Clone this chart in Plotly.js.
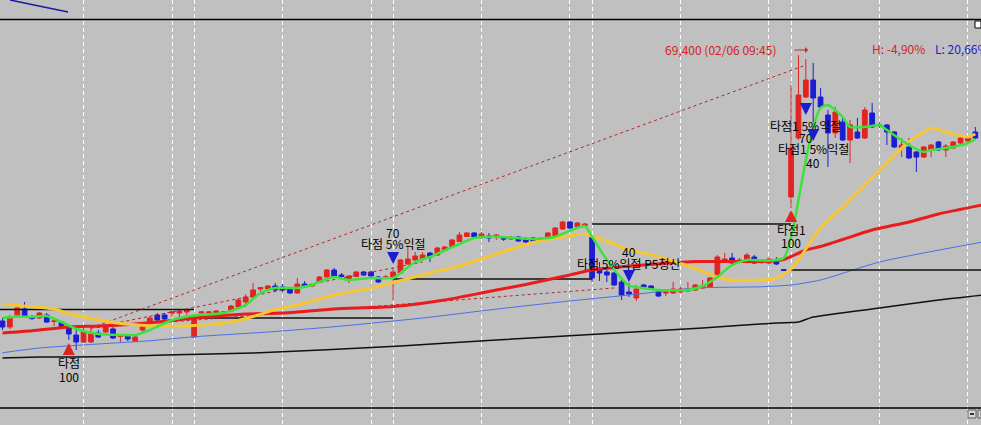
<!DOCTYPE html>
<html>
<head>
<meta charset="utf-8">
<script src="https://cdn.plot.ly/plotly-3.0.1.min.js"></script>
<style>
  html, body { margin: 0; padding: 0; background: #c0c0c0; }
  #plotlyChart { width: 981px; height: 425px; }
</style>
</head>
<body>
<div id="plotlyChart"></div>
<script>
// bars, oldest on the left (price in won)
let open = [
  58760, 58520, 59000, 59240, 58920, 58880, 59000, 58740, 58720, 58480,
  58200, 57920, 57920, 58280, 58320, 58440, 58140, 58160, 57960, 58400,
  58680, 59000, 59000, 59080, 59080, 59120, 58120, 59080, 59080, 59000,
  59100, 59160, 59320, 59520, 59720, 60040, 60040, 60160, 60120, 60040,
  59880, 60240, 60160, 60320, 60520, 60800, 60600, 60400, 60540, 60720,
  60720, 60520, 60500, 60520, 60680, 61040, 61200, 61240, 61480, 61400,
  61580, 61740, 61940, 62140, 62280, 62160, 62160, 62120, 62080, 62040,
  62120, 62060, 62080, 62060, 62080, 62160, 62440, 62720, 62540, 62560,
  62120, 60800, 60720, 60680, 60320, 59920, 59680, 60200, 60160, 59920,
  59880, 59880, 59920, 59960, 60000, 60080, 60120, 60520, 61120, 61280,
  61140, 61200, 61320, 61120, 61080, 61200, 60820, 63720, 66080, 67720,
  68400, 67720, 67000, 66280, 66720, 66000, 66320, 66080, 67080, 66580,
  66600, 66320, 65680, 65720, 65520, 65320, 65600, 65920, 65600, 65680,
  65880, 65960, 66320,
];
let high = [
  58880, 59000, 59360, 59520, 59000, 59120, 59080, 58800, 58760, 58560,
  58400, 58480, 58520, 58400, 58600, 58520, 58240, 58240, 58160, 58720,
  58960, 59080, 59080, 59160, 59200, 59240, 58960, 59160, 59160, 59200,
  59160, 59400, 59640, 59840, 60280, 60120, 60200, 60280, 60240, 60080,
  60480, 60360, 60240, 60560, 60840, 60880, 60680, 60600, 60760, 60760,
  60760, 60560, 60600, 60920, 61240, 61800, 61520, 61520, 61520, 61720,
  61760, 62040, 62320, 62320, 62320, 62320, 62280, 62240, 62160, 62160,
  62160, 62120, 62120, 62120, 62320, 62520, 62760, 62760, 62720, 62680,
  62160, 61120, 60800, 60720, 60400, 60280, 60200, 60240, 60200, 59960,
  60000, 60320, 60120, 60320, 60240, 60400, 60520, 61400, 61480, 61480,
  61280, 61480, 61400, 61240, 61280, 61320, 60840, 68200, 69400, 69240,
  69080, 68080, 67200, 67320, 66920, 66800, 66880, 67320, 67480, 66720,
  66640, 66360, 66080, 66080, 65560, 65760, 65840, 65960, 65840, 65960,
  66120, 66160, 66520,
];
let low = [
  58400, 58440, 58960, 58920, 58800, 58840, 58680, 58560, 58480, 58000,
  57600, 57880, 57880, 58080, 58280, 58040, 57920, 57960, 57920, 58240,
  58640, 58760, 58800, 58920, 58920, 59000, 58080, 58920, 58880, 58960,
  58920, 59120, 59280, 59320, 59680, 59920, 60000, 59920, 59920, 59840,
  59840, 60120, 60120, 60280, 60480, 60480, 60440, 60280, 60520, 60560,
  60520, 60280, 60440, 59600, 60640, 61000, 61160, 61200, 61120, 61360,
  61560, 61720, 61920, 62120, 62080, 62040, 61920, 62000, 61960, 62000,
  61920, 61880, 61920, 61920, 62040, 62120, 62400, 62440, 62520, 62520,
  60320, 60360, 60320, 60160, 59600, 59720, 59560, 60080, 60000, 59720,
  59760, 59840, 59880, 59920, 59960, 60040, 60080, 60480, 61080, 61000,
  61120, 61080, 61040, 61040, 61040, 61000, 60760, 63280, 66000, 67680,
  66080, 67200, 64920, 66080, 65960, 65080, 66040, 66040, 66480, 66480,
  65800, 65680, 65320, 65240, 64720, 65280, 65320, 65560, 65320, 65640,
  65840, 65920, 66040,
];
let close = [
  58520, 58920, 59280, 58960, 58860, 59080, 58720, 58760, 58520, 58240,
  57920, 58320, 58240, 58120, 58520, 58080, 58160, 58040, 58120, 58680,
  58880, 58800, 58840, 59120, 59160, 59200, 58880, 59120, 59120, 59160,
  59120, 59360, 59600, 59720, 60000, 60100, 60160, 60000, 60000, 59880,
  60240, 60160, 60180, 60520, 60800, 60520, 60540, 60560, 60720, 60600,
  60560, 60320, 60520, 60720, 61200, 61240, 61360, 61400, 61320, 61680,
  61720, 62000, 62200, 62280, 62120, 62240, 62080, 62200, 62040, 62080,
  61960, 61920, 61960, 61940, 62280, 62480, 62720, 62480, 62680, 62640,
  60480, 60680, 60600, 60200, 59800, 59840, 60040, 60120, 60040, 59760,
  59920, 60040, 60040, 60040, 60200, 60160, 60480, 61320, 61240, 61080,
  61200, 61400, 61080, 61200, 61240, 61040, 60780, 65680, 67800, 68400,
  67680, 67320, 66280, 67120, 66000, 66600, 66080, 67200, 66520, 66600,
  66320, 65720, 65800, 65280, 65320, 65720, 65800, 65600, 65760, 65920,
  66080, 66080, 66080,
];
let bars = open.map((_, i) => i);

// moving averages (bar index, price)
let ma5X = [0, 2, 4, 6, 8, 10, 13, 16, 18, 20, 23, 26, 30, 33, 35, 37, 40, 42, 44, 45, 47, 50, 53, 54, 56, 58, 60, 62, 64, 67, 72, 75, 79, 80, 82, 85, 87, 89, 93, 95, 97, 99, 101, 104, 106, 107, 108, 109, 110, 111, 112, 114, 115, 117, 119, 120, 123, 125, 126, 129, 131, 132];
let ma5Y = [58880, 58940, 58920, 58960, 58720, 58440, 58240, 58200, 58200, 58400, 58800, 58980, 59080, 59400, 59880, 60080, 60080, 60200, 60440, 60520, 60400, 60480, 60480, 60680, 61120, 61320, 61580, 61840, 62080, 62130, 62040, 62130, 62560, 62130, 61200, 60180, 60080, 60000, 60000, 60160, 60520, 61000, 61200, 61180, 61280, 62100, 63600, 65200, 66520, 67280, 67400, 66920, 66520, 66520, 66600, 66400, 65800, 65520, 65600, 65720, 65880, 66040];
let ma20X = [0, 4, 7, 9, 11, 15, 18, 21, 26, 31, 34, 37, 40, 45, 50, 53, 58, 62, 67, 72, 76, 79, 80, 82, 85, 89, 94, 97, 99, 103, 105, 107, 108, 109, 111, 114, 116, 118, 120, 123, 125, 126, 128, 131, 132];
let ma20Y = [59440, 59330, 59240, 59060, 58920, 58700, 58610, 58560, 58580, 58720, 58940, 59220, 59400, 59800, 60080, 60300, 60680, 60960, 61440, 61900, 62120, 62240, 62140, 61960, 61600, 61340, 60860, 60520, 60400, 60400, 60460, 60840, 61200, 61640, 62480, 63320, 63920, 64500, 65100, 65940, 66320, 66480, 66320, 66120, 66240];
let ma60X = [0, 4, 9, 13, 18, 22, 26, 33, 38, 45, 53, 60, 65, 67, 71, 76, 80, 87, 94, 103, 106, 109, 111, 114, 118, 123, 127, 133];
let ma60Y = [58280, 58370, 58520, 58560, 58640, 58750, 58880, 59040, 59080, 59240, 59340, 59600, 59880, 60000, 60220, 60540, 60800, 61000, 61140, 61140, 61220, 61600, 61740, 62020, 62400, 62720, 63040, 63400];
let ma120X = [0, 5, 13, 20, 26, 36, 45, 57, 66, 76, 85, 94, 103, 107, 111, 119, 133];
let ma120Y = [57490, 57680, 57840, 57970, 58130, 58320, 58530, 58880, 59200, 59530, 59800, 60080, 60130, 60200, 60400, 61120, 61920];
let ma240X = [0, 5, 13, 22, 34, 54, 67, 81, 95, 105, 108, 110, 119, 127, 133];
let ma240Y = [57280, 57320, 57330, 57400, 57480, 57760, 58000, 58240, 58480, 58680, 58720, 58920, 59280, 59600, 59800];

// reference level per session
let levelStart = [-1, 26, 53, 80, 107];
let levelEnd = [26, 53, 80, 107, 133];
let levelPrice = [59220, 58880, 60440, 62640, 60800];

// fan lines from one low
let fanFromX = 12;
let fanFromY = 58480;
let fanToX = [109, 57, 83];
let fanToY = [69000, 61120, 60080];

// session separators
let sessionBars = [11, 23, 26, 38, 50, 53, 65, 77, 80, 92, 104, 107, 119, 131];

let red = '#e32222';
let blue = '#1c1cd2';

let levelX = [], levelY = [];
for (let i = 0; i < levelStart.length; ++i) {
  levelX.push(levelStart[i], levelEnd[i], null);
  levelY.push(levelPrice[i], levelPrice[i], null);
}
let fanX = [], fanY = [];
for (let i = 0; i < fanToX.length; ++i) {
  fanX.push(fanFromX, fanToX[i], null);
  fanY.push(fanFromY, fanToY[i], null);
}

let line = { shape: 'spline', smoothing: 0.6 };

let data = [
  { x: ma240X, y: ma240Y, type: 'scatter', mode: 'lines', line: { ...line, color: '#101010', width: 1.5 } },
  { x: ma120X, y: ma120Y, type: 'scatter', mode: 'lines', line: { ...line, color: '#4a6ee6', width: 1 } },
  { x: levelX, y: levelY, type: 'scatter', mode: 'lines', line: { color: '#101010', width: 1.3 } },
  { x: fanX, y: fanY, type: 'scatter', mode: 'lines', line: { color: '#b02828', width: 1, dash: '3px,3px' } },
  { x: ma60X, y: ma60Y, type: 'scatter', mode: 'lines', line: { ...line, color: '#e81c1c', width: 3 } },
  { x: ma20X, y: ma20Y, type: 'scatter', mode: 'lines', line: { ...line, color: '#f7c634', width: 3 } },
  {
    x: bars,
    open: open,
    high: high,
    low: low,
    close: close,
    type: 'candlestick',
    increasing: { line: { color: red, width: 1 }, fillcolor: red },
    decreasing: { line: { color: blue, width: 1 }, fillcolor: blue },
    whiskerwidth: 0,
  },
  { x: ma5X, y: ma5Y, type: 'scatter', mode: 'lines', line: { ...line, color: '#3ce23c', width: 2.5 } },
];

let font = { family: 'Noto Sans CJK KR, sans-serif', size: 12, color: '#000000' };
let label = (x, y, text, extra) => ({ x: x, y: y, text: text, showarrow: false, font: font, ...extra });
let arrow = (x, y, ay, color) => ({
  x: x, y: y, text: '', showarrow: true, ax: 0, ay: ay,
  arrowhead: 2, arrowsize: 0.8, arrowwidth: 3, arrowcolor: color,
});

let annotations = [
  arrow(9, 57880, 13, red),
  label(9, 57120, '타점'),
  label(9, 56560, '100'),
  arrow(53, 61040, -12, blue),
  label(53, 62300, '70'),
  label(53, 61880, '타점 5%익절'),
  arrow(85, 60320, -12, blue),
  label(85, 61560, '40'),
  label(85, 61080, '타점 5%익절 P5청산'),
  arrow(107, 63200, 12, red),
  label(107, 62440, '타점1'),
  label(107, 61900, '100'),
  arrow(109, 67000, -10, blue),
  label(109, 66600, '타점1 5%익절'),
  label(109, 66120, '70'),
  arrow(110, 65960, -9, blue),
  label(110, 65660, '타점1 5%익절'),
  label(110, 65100, '40'),
  {
    x: 109.3, y: 69600, text: '', showarrow: true, ax: -15, ay: 0,
    arrowhead: 1, arrowsize: 1, arrowwidth: 1, arrowcolor: '#d42020',
  },
  label(105.2, 69640, '69,400 (02/06 09:45)', { xanchor: 'right', font: { ...font, color: '#d42020' } }),
  label(870 / 981, 1 - 38 / 425, 'H: -4,90%', { xref: 'paper', yref: 'paper', xanchor: 'left', font: { ...font, color: '#d42020' } }),
  label(933 / 981, 1 - 38 / 425, 'L: 20,66%', { xref: 'paper', yref: 'paper', xanchor: 'left', font: { ...font, color: '#1c1cd2' } }),
];

let shapes = [
  { type: 'line', xref: 'paper', yref: 'paper', x0: 0, x1: 1, y0: 1 - 19.5 / 425, y1: 1 - 19.5 / 425, line: { color: '#000000', width: 1.5 } },
  { type: 'line', xref: 'paper', yref: 'paper', x0: 0, x1: 1, y0: 1 - 408 / 425, y1: 1 - 408 / 425, line: { color: '#000000', width: 1.5 } },
  { type: 'line', xref: 'paper', yref: 'paper', x0: 10 / 981, x1: 68 / 981, y0: 1, y1: 1 - 12 / 425, line: { color: '#1a1aa0', width: 1.5 } },
  { type: 'rect', xref: 'paper', yref: 'paper', x0: 975 / 981, x1: 1, y0: 1 - 28 / 425, y1: 1 - 21 / 425, fillcolor: '#ffffff', line: { color: '#000000', width: 1 } },
  { type: 'rect', xref: 'paper', yref: 'paper', x0: 968 / 981, x1: 976 / 981, y0: 1 - 418 / 425, y1: 1 - 410 / 425, fillcolor: '#d8d8d8', line: { color: '#606060', width: 1 } },
  { type: 'line', xref: 'paper', yref: 'paper', x0: 970 / 981, x1: 974 / 981, y0: 1 - 414 / 425, y1: 1 - 414 / 425, line: { color: '#000000', width: 1.5 } },
  { type: 'rect', xref: 'paper', yref: 'paper', x0: 978 / 981, x1: 1, y0: 1 - 418 / 425, y1: 1 - 410 / 425, fillcolor: '#d8d8d8', line: { color: '#606060', width: 1 } },
];

Plotly.newPlot(
  'plotlyChart',
  data,
  {
    width: 981,
    height: 425,
    paper_bgcolor: '#c0c0c0',
    plot_bgcolor: '#c0c0c0',
    margin: { t: 0, r: 0, b: 0, l: 0 },
    showlegend: false,
    boxgap: 0.2,
    boxgroupgap: 0.2,
    xaxis: {
      range: [-2.5 / 7.37, 978.5 / 7.37],
      tickvals: sessionBars,
      showticklabels: false,
      ticks: '',
      showgrid: true,
      gridcolor: '#ffffff',
      gridwidth: 1,
      griddash: '4px,3px',
      zeroline: false,
      rangeslider: { visible: false },
    },
    yaxis: {
      range: [54600, 71600],
      showgrid: false,
      showticklabels: false,
      ticks: '',
      zeroline: false,
    },
    annotations: annotations,
    shapes: shapes,
  },
  { staticPlot: true }
);
</script>
</body>
</html>
